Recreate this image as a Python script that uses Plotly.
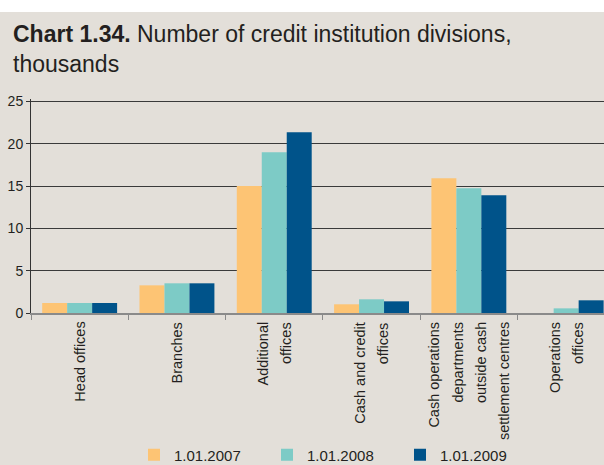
import plotly.graph_objects as go

categories = ["Head offices", "Branches", "Additional offices", "Cash and credit offices",
              "Cash operations departments outside cash settlement centres", "Operations offices"]
tick_labels = ["Head offices", "Branches", "Additional\noffices", "Cash and credit\noffices",
               "Cash operations\ndepartments\noutside cash\nsettlement centres", "Operations\noffices"]
series_names = ["1.01.2007", "1.01.2008", "1.01.2009"]
v2007 = [1.18, 3.27, 15.0, 1.03, 15.93, 0.0]
v2008 = [1.18, 3.51, 19.0, 1.62, 14.74, 0.55]
v2009 = [1.18, 3.51, 21.37, 1.38, 13.92, 1.50]
colors = ["#fdc474", "#7dcbc6", "#00538a"]

BG = "#e3dfd9"
FONT = "Liberation Sans, Arial, sans-serif"
TXT = "#231f20"

fig = go.Figure()
for name, vals, c in zip(series_names, [v2007, v2008, v2009], colors):
    fig.add_trace(go.Bar(x=categories, y=vals, name=name, marker_color=c, marker_line_width=0))

# category labels as rotated annotations (one per line)
spacing = 23.5
for cat, lab in zip(categories, tick_labels):
    lines = lab.split("\n")
    n = len(lines)
    for i, ln in enumerate(lines):
        fig.add_annotation(x=cat, y=0, xref="x", yref="y", text=ln, textangle=-90,
                           showarrow=False, xanchor="center", yanchor="top",
                           xshift=(i - (n - 1) / 2) * spacing, yshift=-7,
                           font=dict(family=FONT, size=14.5, color=TXT))

# white strip along the top edge
fig.add_shape(type="rect", xref="paper", yref="paper", x0=-0.1, x1=1.1,
              y0=(313 - 12) / 214, y1=2.0, fillcolor="white", line_width=0, layer="above")

fig.update_layout(
    width=604, height=465,
    margin=dict(l=31, r=0, t=99, b=152, pad=0, autoexpand=False),
    paper_bgcolor=BG, plot_bgcolor=BG,
    barmode="group", bargap=0.23, bargroupgap=0,
    font=dict(family=FONT, color=TXT),
    title=dict(text="<b>Chart 1.34.</b> Number of credit institution divisions,<br>thousands",
               xref="container", yref="container", x=13 / 604, xanchor="left",
               y=1 - 42 / 465, yanchor="top", pad=dict(l=0, r=0, t=0, b=0),
               font=dict(family=FONT, size=23, color=TXT)),
    showlegend=True,
    legend=dict(orientation="h", xref="container", yref="container",
                x=134 / 604, xanchor="left", y=1 - 455 / 465, yanchor="middle",
                font=dict(family=FONT, size=15, color=TXT),
                entrywidth=88, entrywidthmode="pixels", bgcolor="rgba(0,0,0,0)",
                itemclick=False),
    xaxis=dict(range=[-0.5, -0.5 + 573 / 97.3], showticklabels=False, tickson="boundaries",
               ticks="outside", ticklen=5, tickcolor="#8a8a8a", showline=True,
               linecolor="#8a8a8a", linewidth=2, showgrid=False, zeroline=False),
    yaxis=dict(range=[0, 25.3], tickvals=[0, 5, 10, 15, 20, 25], showline=True,
               linecolor="#333333", linewidth=1,
               ticks="outside", ticklen=4, tickcolor="#333333", gridcolor="#3a3a3a",
               gridwidth=1.2, zeroline=False,
               tickfont=dict(family=FONT, size=14, color=TXT)),
)

fig.write_html("out.html", config={"displayModeBar": False},
               post_script="document.body.style.margin='0';")
